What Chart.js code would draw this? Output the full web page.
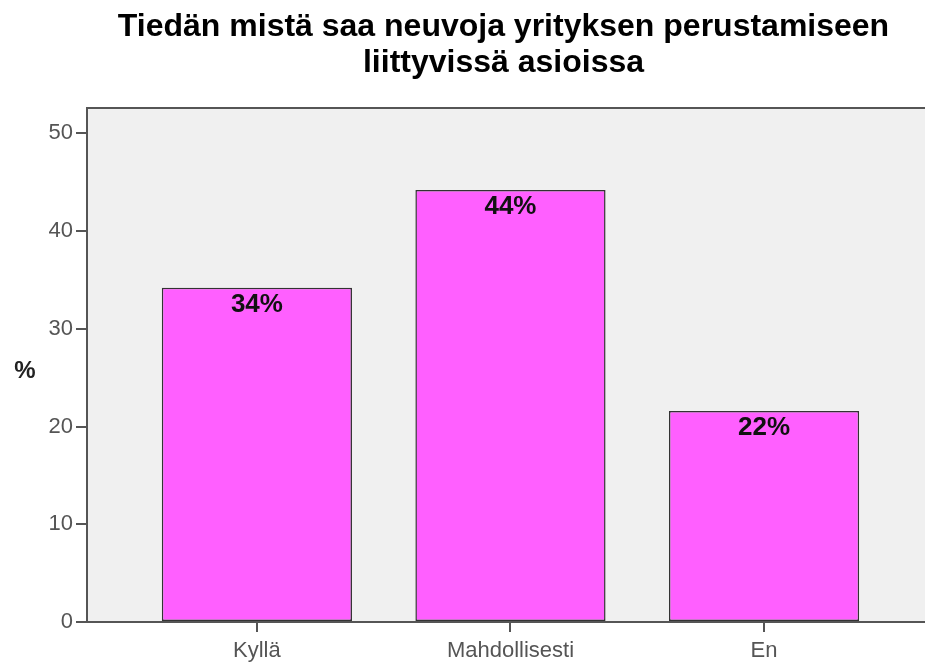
<!DOCTYPE html>
<html>
<head>
<meta charset="utf-8">
<script src="https://cdn.jsdelivr.net/npm/chart.js@4/dist/chart.umd.min.js"></script>
<style>
    html, body { margin: 0; padding: 0; background: #fff; overflow: hidden; }
</style>
</head>
<body>
<canvas id="barChart" width="925" height="666"></canvas>
<script>
// Chart data
const titleLines = ['Tiedän mistä saa neuvoja yrityksen perustamiseen', 'liittyvissä asioissa'];
const categories = ['Kyllä', 'Mahdollisesti', 'En'];
const percentValues = [34.2, 44.2, 21.6];
const percentLabels = ['34%', '44%', '22%'];
const yTicks = [0, 10, 20, 30, 40, 50];
const yAxisLabel = '%';

const axisColor = '#555555';
const fontFamily = '"Liberation Sans", Arial, sans-serif';

// Grey plot background + frame lines running out to the right edge
const plotBackground = {
    id: 'plotBackground',
    beforeDraw(chart) {
        const { ctx, chartArea, width } = chart;
        ctx.save();
        ctx.fillStyle = '#f0f0f0';
        ctx.fillRect(chartArea.left, chartArea.top, width - chartArea.left, chartArea.bottom - chartArea.top);
        ctx.restore();
    },
    afterDraw(chart) {
        const { ctx, chartArea, width } = chart;
        ctx.save();
        ctx.strokeStyle = axisColor;
        ctx.lineWidth = 2;
        ctx.beginPath();
        ctx.moveTo(chartArea.left, chartArea.top);
        ctx.lineTo(width, chartArea.top);
        ctx.moveTo(chartArea.right - 2, chartArea.bottom);
        ctx.lineTo(width, chartArea.bottom);
        ctx.stroke();
        ctx.restore();
    }
};

// Percent labels inside the top of each bar, plus the "%" axis label
const barLabels = {
    id: 'barLabels',
    afterDatasetsDraw(chart) {
        const { ctx, chartArea } = chart;
        const meta = chart.getDatasetMeta(0);
        ctx.save();
        ctx.fillStyle = '#111';
        ctx.font = 'bold 26px ' + fontFamily;
        ctx.textAlign = 'center';
        ctx.textBaseline = 'middle';
        meta.data.forEach((bar, i) => {
            ctx.fillText(percentLabels[i], bar.x, bar.y + 17);
        });
        ctx.font = 'bold 24px ' + fontFamily;
        ctx.fillStyle = '#222';
        ctx.fillText(yAxisLabel, 25, (chartArea.top + chartArea.bottom) / 2 + 6);
        ctx.restore();
    }
};

const ctx = document.getElementById('barChart').getContext('2d');
const barChart = new Chart(ctx, {
    type: 'bar',
    data: {
        datasets: [{
            data: percentValues.map((v, i) => ({ x: i, y: v })),
            backgroundColor: '#ff5fff',
            borderColor: '#333333',
            borderWidth: 1.5,
            borderSkipped: false,
            categoryPercentage: 1,
            barPercentage: 0.75
        }]
    },
    options: {
        responsive: false,
        animation: false,
        layout: { padding: { right: 5 } },
        plugins: {
            legend: { display: false },
            tooltip: { enabled: false },
            title: {
                display: true,
                fullSize: false,
                text: titleLines,
                color: '#000',
                font: { family: fontFamily, size: 32, weight: 'bold', lineHeight: 1.1 },
                padding: { top: 10, bottom: 27.6 }
            }
        },
        scales: {
            x: {
                type: 'linear',
                min: -0.67,
                max: 2.615,
                offset: false,
                afterFit(scale) { scale.height = 44; },
                afterBuildTicks(scale) {
                    scale.ticks = categories.map((c, i) => ({ value: i }));
                },
                ticks: {
                    color: axisColor,
                    padding: 6,
                    font: { family: fontFamily, size: 22 },
                    callback: (value) => categories[value]
                },
                grid: {
                    offset: false,
                    drawOnChartArea: false,
                    drawTicks: true,
                    tickLength: 10,
                    color: axisColor,
                    lineWidth: 2
                },
                border: { display: true, color: axisColor, width: 2 }
            },
            y: {
                min: 0,
                max: 52.6,
                afterFit(scale) { scale.width = 87; },
                afterBuildTicks(scale) {
                    scale.ticks = yTicks.map(v => ({ value: v }));
                },
                ticks: {
                    color: axisColor,
                    padding: 3,
                    font: { family: fontFamily, size: 22 }
                },
                grid: {
                    drawOnChartArea: false,
                    drawTicks: true,
                    tickLength: 11,
                    color: axisColor,
                    lineWidth: 2
                },
                border: { display: true, color: axisColor, width: 2 }
            }
        }
    },
    plugins: [plotBackground, barLabels]
});
</script>
</body>
</html>
